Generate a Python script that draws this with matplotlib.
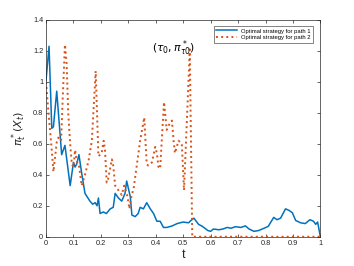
import matplotlib
matplotlib.use("Agg")
import matplotlib.pyplot as plt

# path 1 (blue, solid)
t1 = [0, 0.011, 0.021, 0.027, 0.039, 0.050, 0.057, 0.069, 0.088, 0.100, 0.106,
      0.112, 0.120, 0.130, 0.142, 0.160, 0.170, 0.179, 0.186, 0.191, 0.197, 0.209,
      0.220, 0.234, 0.245, 0.252, 0.264, 0.276, 0.288, 0.294, 0.307, 0.313, 0.325,
      0.336, 0.343, 0.355, 0.367, 0.380, 0.392, 0.404, 0.416, 0.428, 0.440, 0.460,
      0.478, 0.500, 0.520, 0.525, 0.539, 0.556, 0.570, 0.590, 0.600, 0.610, 0.630,
      0.645, 0.660, 0.675, 0.690, 0.710, 0.727, 0.740, 0.758, 0.775, 0.795, 0.810,
      0.830, 0.842, 0.855, 0.873, 0.886, 0.898, 0.910, 0.928, 0.945, 0.962, 0.975,
      0.983, 0.990, 1.0]
pi1 = [1.01, 1.23, 0.70, 0.71, 0.94, 0.69, 0.53, 0.59, 0.33, 0.48, 0.45,
       0.47, 0.53, 0.41, 0.28, 0.23, 0.21, 0.22, 0.20, 0.25, 0.15, 0.16,
       0.15, 0.18, 0.19, 0.28, 0.25, 0.23, 0.28, 0.36, 0.26, 0.14, 0.13,
       0.15, 0.19, 0.18, 0.22, 0.18, 0.15, 0.10, 0.10, 0.06, 0.06, 0.07,
       0.085, 0.095, 0.09, 0.10, 0.12, 0.08, 0.067, 0.04, 0.035, 0.05, 0.045,
       0.05, 0.06, 0.055, 0.065, 0.06, 0.07, 0.05, 0.035, 0.04, 0.055, 0.067,
       0.125, 0.11, 0.12, 0.18, 0.17, 0.155, 0.105, 0.09, 0.085, 0.11, 0.10,
       0.08, 0.095, 0.0]

# path 2 (orange, dotted)
t2 = [0, 0.010, 0.020, 0.027, 0.039, 0.045, 0.055, 0.061, 0.069, 0.075, 0.081,
      0.088, 0.094, 0.100, 0.106, 0.112, 0.120, 0.130, 0.142, 0.155, 0.167, 0.181,
      0.191, 0.203, 0.210, 0.215, 0.221, 0.226, 0.240, 0.245, 0.252, 0.264, 0.276,
      0.285, 0.297, 0.304, 0.310, 0.320, 0.330, 0.343, 0.358, 0.367, 0.372, 0.386,
      0.398, 0.404, 0.410, 0.416, 0.430, 0.440, 0.453, 0.459, 0.465, 0.470, 0.483,
      0.495, 0.503, 0.524, 0.533, 1.0]
pi2 = [1.0, 0.78, 0.58, 0.42, 0.61, 0.64, 0.62, 0.90, 1.24, 1.12, 0.80,
       0.60, 0.47, 0.45, 0.56, 0.49, 0.46, 0.33, 0.40, 0.49, 0.62, 1.07,
       0.52, 0.54, 0.62, 0.56, 0.35, 0.37, 0.50, 0.46, 0.33, 0.30, 0.27,
       0.33, 0.26, 0.18, 0.25, 0.32, 0.45, 0.62, 0.77, 0.47, 0.46, 0.48,
       0.58, 0.54, 0.45, 0.44, 0.87, 0.69, 0.74, 0.75, 0.62, 0.54, 0.62,
       0.60, 0.30, 1.21, 0.0, 0.0]

labels = ["Optimal strategy for path 1", "Optimal strategy for path 2"]

plt.rcParams["font.family"] = ["Liberation Sans", "DejaVu Sans"]
plt.rcParams["mathtext.fontset"] = "dejavusans"

fig = plt.figure(figsize=(3.54, 2.66), dpi=100)
ax = fig.add_axes([0.13, 0.11, 0.775, 0.815])

ax.plot(t1, pi1, color=(0, 0.447, 0.741), lw=1.1, label=labels[0])
ax.plot(t2, pi2, color=(0.85, 0.325, 0.098), lw=1.4, ls=":", label=labels[1])

ax.text(0.385, 1.22, r"$(\tau_0,\pi^*_{\tau0})$", fontsize=7.8, va="center", ha="left")

ax.set_xlim(0, 1)
ax.set_ylim(0, 1.4)
ax.set_xticks([0, 0.1, 0.2, 0.3, 0.4, 0.5, 0.6, 0.7, 0.8, 0.9, 1])
ax.set_xticklabels(["0", "0.1", "0.2", "0.3", "0.4", "0.5", "0.6", "0.7", "0.8", "0.9", "1"])
ax.set_yticks([0, 0.2, 0.4, 0.6, 0.8, 1.0, 1.2, 1.4])
ax.set_yticklabels(["0", "0.2", "0.4", "0.6", "0.8", "1", "1.2", "1.4"])

gray = (0.15, 0.15, 0.15)
ax.tick_params(direction="in", top=True, right=True, length=2.5, width=0.5,
               labelsize=5.3, colors=gray, pad=2)
for s in ax.spines.values():
    s.set_linewidth(0.5)
    s.set_color(gray)

ax.set_xlabel("t", fontsize=9, color=gray, labelpad=2)
ax.set_ylabel(r"$\pi^*_t(X_t)$", fontsize=8, color=gray, labelpad=3)

leg = ax.legend(loc="upper right", fontsize=4.2, frameon=True, fancybox=False,
                handlelength=3.5, borderpad=0.4, labelspacing=0.3,
                bbox_to_anchor=(0.985, 0.985))
leg.get_frame().set_linewidth(0.5)
leg.get_frame().set_edgecolor(gray)

fig.savefig("out.png", dpi=100)
